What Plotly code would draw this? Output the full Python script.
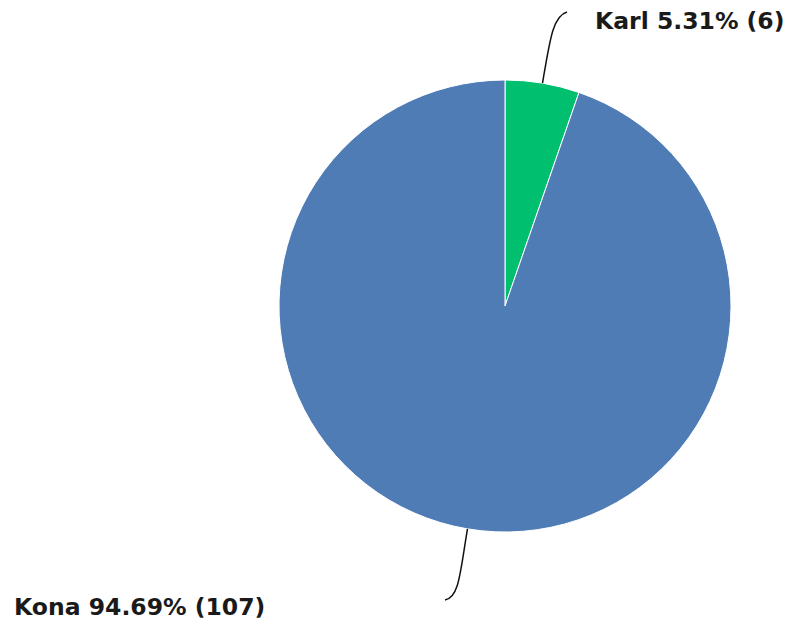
import math
import plotly.graph_objects as go

labels = ["Karl", "Kona"]
values = [6, 107]
colors = ["#00BF6F", "#507CB6"]

OFF = 8  # page body margin of the browser
W, H = 792 - 2 * OFF, 629 - 2 * OFF
cx, cy, R = 505 - OFF, 306 - OFF, 226  # pie geometry in pixels

fig = go.Figure(go.Pie(
    labels=labels, values=values, sort=False, direction="clockwise",
    marker=dict(colors=colors, line=dict(color="white", width=1)),
    textinfo="none", hoverinfo="label+percent+value", showlegend=False,
    domain=dict(x=[(cx - R) / W, (cx + R) / W], y=[(H - cy - R) / H, (H - cy + R) / H]),
))

total = sum(values)
label_pos = [(593 - OFF, 21 - OFF), (12 - OFF, 607 - OFF)]
end_pts = [(567 - OFF, 12 - OFF), (445 - OFF, 600 - OFF)]

def px(x, y):
    return x / W, 1 - y / H

shapes = []
annotations = []
cum = 0
for i, (lab, v) in enumerate(zip(labels, values)):
    mid = (cum + v / 2) / total * 2 * math.pi
    cum += v
    sx, sy = cx + R * math.sin(mid), cy - R * math.cos(mid)
    c1x, c1y = cx + R * 1.2 * math.sin(mid), cy - R * 1.2 * math.cos(mid)
    ex, ey = end_pts[i]
    dirx = 1 if ex > sx else -1
    c2x, c2y = ex - dirx * 14, ey + (4 if ey < cy else -2)
    pts = [px(sx, sy), px(c1x, c1y), px(c2x, c2y), px(ex, ey)]
    path = "M {} {} C {} {}, {} {}, {} {}".format(*[c for p in pts for c in p])
    shapes.append(dict(type="path", xref="paper", yref="paper", path=path,
                       line=dict(color="#111111", width=1.5)))
    pct = v / total * 100
    lx, ly = label_pos[i]
    annotations.append(dict(
        x=lx / W, y=1 - ly / H, xref="paper", yref="paper",
        xanchor="left", yanchor="middle", showarrow=False,
        text=f"{lab} {pct:.2f}% ({v})",
        font=dict(family="DejaVu Sans", size=23.5, color="#1a1a1a", weight="bold"),
    ))

fig.update_layout(
    width=W, height=H, margin=dict(l=0, r=0, t=0, b=0),
    paper_bgcolor="white", plot_bgcolor="white",
    shapes=shapes, annotations=annotations,
)
fig.write_html("out.html")
